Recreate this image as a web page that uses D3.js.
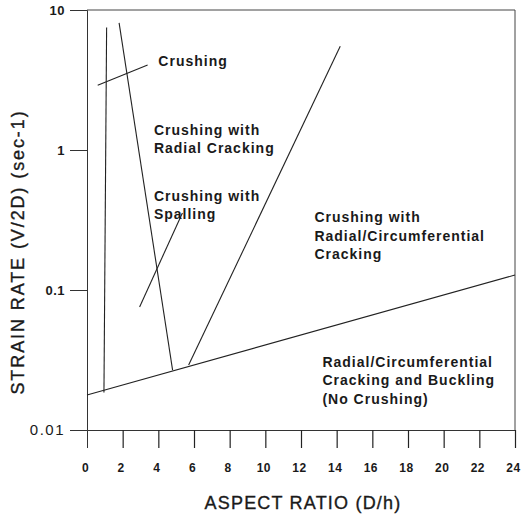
<!DOCTYPE html>
<html><head><meta charset="utf-8">
<script src="https://cdn.jsdelivr.net/npm/d3@7"></script>
<style>
body{margin:0;background:#fff;}
svg{display:block;}
</style></head>
<body>
<svg id="chart" width="522" height="516"></svg>
<script>
// ---- data ----
const xTicks = [0,2,4,6,8,10,12,14,16,18,20,22,24];
const yTicks = [0.01, 0.1, 1, 10];
const yTickLabels = ["0.01","0.1","1","10"];
// boundary lines: [aspect ratio, strain rate]
const crushingBoundary = [[1.1, 7.5],[0.95, 0.0185]];
const radialBoundary = [[1.8, 8.1],[4.8, 0.0268]];
const circumBoundary = [[5.7, 0.0291],[14.2, 5.5]];
const bucklingBoundary = [[0, 0.0178],[24, 0.128]];
const crushingPointer = [[0.6, 2.9],[3.4, 4.05]];
const spallingPointer = [[2.95, 0.0757],[5.35, 0.355]];
const regionLabels = [
  {lines:["Crushing"], x:4.0, y:4.0},
  {lines:["Crushing with","Radial Cracking"], x:3.75, y:1.28},
  {lines:["Crushing with","Spalling"], x:3.75, y:0.435},
  {lines:["Crushing with","Radial/Circumferential","Cracking"], x:12.75, y:0.305},
  {lines:["Radial/Circumferential","Cracking and Buckling","(No Crushing)"], x:13.2, y:0.0283}
];
const xTitle = "ASPECT RATIO (D/h)";
const yTitle = "STRAIN RATE (V/2D) (sec-1)";

// ---- chart ----
const svg = d3.select("#chart");
const x = d3.scaleLinear().domain([0,24]).range([87,515]);
const y = d3.scaleLog().domain([0.01,10]).range([430,10]);
const ink = "#1a1a1a";
const font = "'Liberation Sans', Arial, Helvetica, sans-serif";

// frame (top & right)
svg.append("path")
  .attr("d", `M${x(0)},${y(10)}H${x(24)}V${y(0.01)}`)
  .attr("fill","none").attr("stroke","#444").attr("stroke-width",1);

// left axis
const ya = svg.append("g").attr("transform",`translate(${x(0)},0)`)
  .call(d3.axisLeft(y).tickValues(yTicks).tickSize(17).tickPadding(5)
    .tickFormat((d,i)=>yTickLabels[i]));
ya.select(".domain").attr("stroke","#333");
ya.selectAll(".tick line").attr("stroke","#333");
ya.selectAll(".tick text").attr("font-family",font)
  .attr("font-weight",(d)=>d===0.01?"normal":"bold").attr("fill",ink)
  .attr("letter-spacing",(d)=>d===0.01?1.5:0.5)
  .style("font-size",(d)=>d===0.01?"15px":"13px");

// bottom axis
const xa = svg.append("g").attr("transform",`translate(0,${y(0.01)})`)
  .call(d3.axisBottom(x).tickValues(xTicks).tickSize(18).tickPadding(0).tickFormat(d3.format("d")));
xa.select(".domain").attr("stroke","#333");
xa.selectAll(".tick line").attr("stroke","#222").attr("stroke-width",1.2).attr("opacity",(d)=>d===0?0:1);
xa.selectAll(".tick text").attr("font-family",font).attr("font-size",12)
  .attr("font-weight","bold").attr("fill",ink).attr("letter-spacing",0.5)
  .attr("y",42).attr("dy",0).attr("dx",-2);

// boundary lines
const line = d3.line().x(d=>x(d[0])).y(d=>y(d[1]));
[crushingBoundary, radialBoundary, circumBoundary, bucklingBoundary, crushingPointer, spallingPointer]
  .forEach(seg=>{
    svg.append("path").attr("d", line(seg)).attr("fill","none")
      .attr("stroke","#222").attr("stroke-width",1.1);
  });

// region labels
regionLabels.forEach(lb=>{
  const t = svg.append("text").attr("x",x(lb.x)).attr("y",y(lb.y))
    .attr("font-family",font).attr("font-size",14).attr("font-weight","bold")
    .attr("letter-spacing",1).attr("fill",ink);
  lb.lines.forEach((s,i)=>{
    t.append("tspan").attr("x",x(lb.x)).attr("dy", i===0?0:18.5).text(s);
  });
});

// axis titles
svg.append("text").attr("x",(x(0)+x(24))/2+2).attr("y",509)
  .attr("text-anchor","middle").attr("font-family",font).attr("font-size",18)
  .attr("letter-spacing",1.2).attr("fill",ink)
  .attr("stroke",ink).attr("stroke-width",0.35).text(xTitle);
svg.append("text").attr("transform",`translate(24,252) rotate(-90)`)
  .attr("text-anchor","middle").attr("font-family",font).attr("font-size",18)
  .attr("letter-spacing",1.9).attr("fill",ink)
  .attr("stroke",ink).attr("stroke-width",0.35).text(yTitle);
</script>
</body></html>
